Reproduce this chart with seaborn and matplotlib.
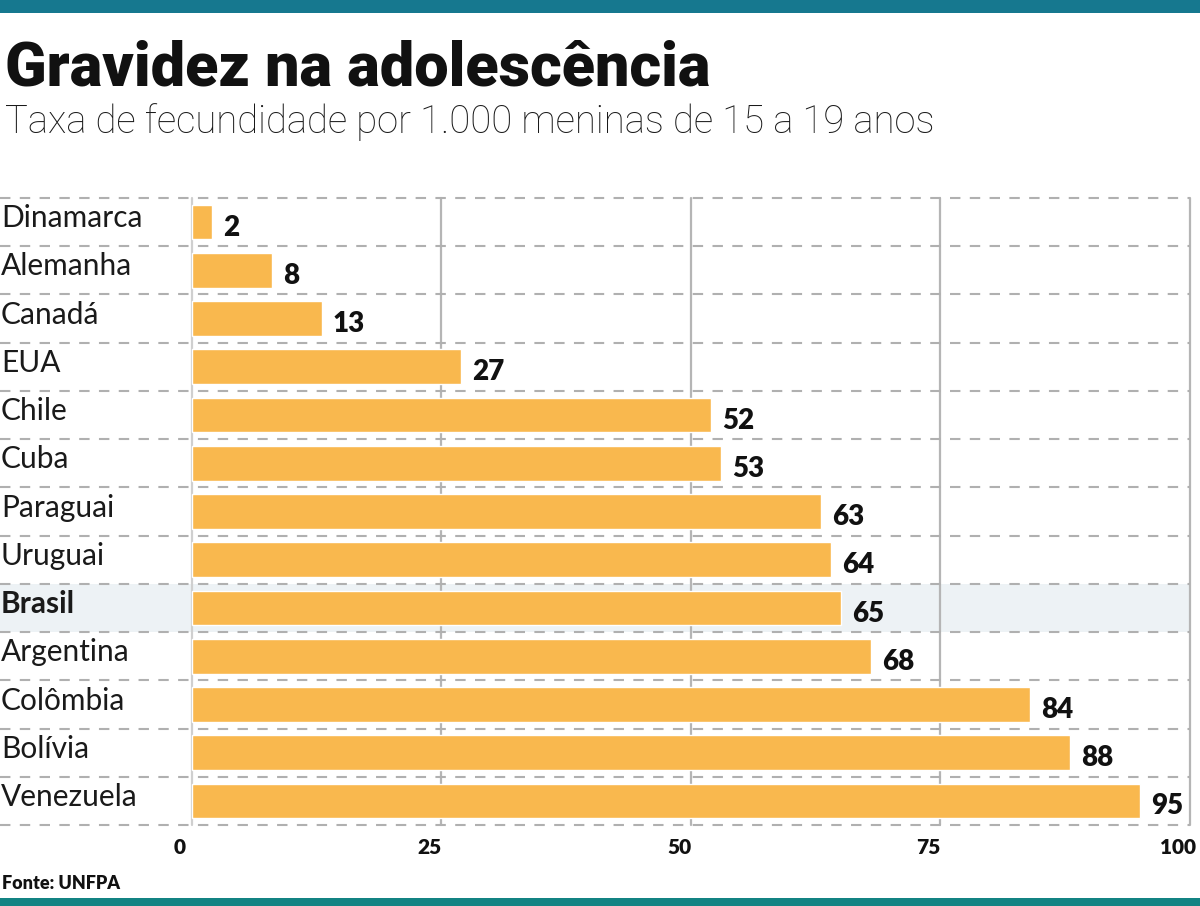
import matplotlib
matplotlib.use("Agg")
import matplotlib.pyplot as plt
import matplotlib.transforms as mtransforms
import seaborn as sns
import pandas as pd

countries = ["Dinamarca", "Alemanha", "Canadá", "EUA", "Chile", "Cuba", "Paraguai",
             "Uruguai", "Brasil", "Argentina", "Colômbia", "Bolívia", "Venezuela"]
values = [2, 8, 13, 27, 52, 53, 63, 64, 65, 68, 84, 88, 95]
xticks = [0, 25, 50, 75, 100]
highlight = "Brasil"

title = "Gravidez na adolescência"
subtitle = "Taxa de fecundidade por 1.000 meninas de 15 a 19 anos"
source = "Fonte: UNFPA"

df = pd.DataFrame({"country": countries, "value": values})

sns.set_theme(style="white")
plt.rcParams["font.family"] = ["Lato", "DejaVu Sans"]

W, H = 1200, 906
fig = plt.figure(figsize=(W / 100, H / 100), dpi=100)
fig.patch.set_facecolor("white")

# axes: left edge at pixel 0, data 0 at px 192, data 100 at px 1190
x0_px, x100_px = 192, 1190
ppu = (x100_px - x0_px) / 100.0
xmin = -x0_px / ppu
top_px, bot_px = 198, 825
ax = fig.add_axes([0, 1 - bot_px / H, x100_px / W, (bot_px - top_px) / H])

bar_color = "#f9b84e"
sns.barplot(data=df, y="country", x="value", orient="h", color=bar_color,
            width=0.72, saturation=1, ax=ax, zorder=3)
ax.set_ylim(len(countries) - 0.5, -0.5)
ax.set_xlim(xmin, 100)

# highlight band
hi = countries.index(highlight)
ax.axhspan(hi - 0.5, hi + 0.5, color="#edf2f5", zorder=0, lw=0)

# vertical grid lines
for t in xticks:
    ax.axvline(t, color="#b5b5b5" if t else "#cfcfcf", lw=1.6, zorder=1, clip_on=False)

# dashed row separators
for i in range(len(countries) + 1):
    ax.axhline(i - 0.5, color="#b0b0b0", lw=1.5, dashes=(5, 4.5), zorder=2, clip_on=False)

for s in ax.spines.values():
    s.set_visible(False)
ax.set_xlabel("")
ax.set_ylabel("")
ax.set_yticks([])
ax.set_xticks(xticks)
ax.set_xticklabels([str(t) for t in xticks], fontsize=15, fontweight="heavy",
                   color="#111111")
ax.tick_params(axis="x", length=0, pad=9)
off = mtransforms.ScaledTranslation(-12 / 100, 0, fig.dpi_scale_trans)
for lab in ax.get_xticklabels():
    lab.set_transform(lab.get_transform() + off)

# country labels
for i, c in enumerate(countries):
    ax.text(xmin + 0.1, i - 0.08, c, ha="left", va="center", fontsize=21.5,
            fontweight="bold" if c == highlight else "normal", color="#1a1a1a", zorder=4)

# value labels
for i, v in enumerate(values):
    ax.annotate(str(v), (v, i), xytext=(8, -4), textcoords="offset points",
                ha="left", va="center", fontsize=20, fontweight="heavy",
                color="#111111", zorder=4)

# title / subtitle / source
fig.text(5 / W, 1 - 86 / H, title, fontsize=44, fontweight="black",
         family=["Roboto", "DejaVu Sans"], color="#111111", ha="left", va="baseline")
fig.text(5 / W, 1 - 133 / H, subtitle, fontsize=27.5, fontweight="light",
         family=["Roboto", "DejaVu Sans"], color="#1a1a1a", ha="left", va="baseline")
fig.text(2 / W, 1 - 889 / H, source, fontsize=13, fontweight="heavy",
         color="#111111", ha="left", va="baseline")

# top/bottom teal bands
fig.add_artist(plt.Rectangle((0, 1 - 13 / H), 1, 13 / H, transform=fig.transFigure,
                             color="#16788f", lw=0))
fig.add_artist(plt.Rectangle((0, 0), 1, 8 / H, transform=fig.transFigure,
                             color="#138383", lw=0))

fig.savefig("out.png", dpi=100)
